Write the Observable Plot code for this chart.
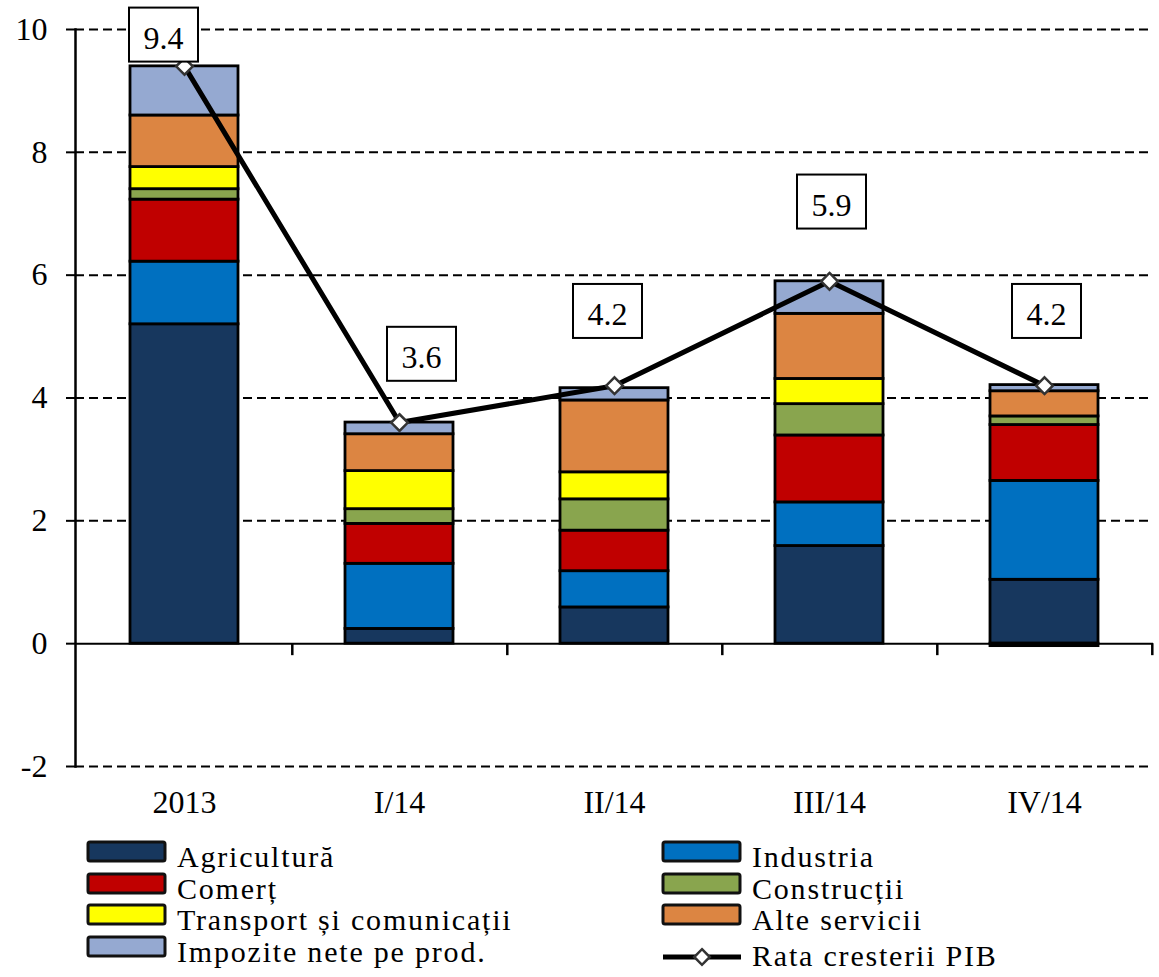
<!DOCTYPE html>
<html><head><meta charset="utf-8">
<script src="https://cdn.jsdelivr.net/npm/d3@7"></script>
<script src="https://cdn.jsdelivr.net/npm/@observablehq/plot@0.6"></script>
<style>
body{margin:0;background:#fff;}
#wrap{position:relative;width:1159px;height:977px;overflow:hidden;}
#wrap svg{display:block;}
</style></head><body><div id="wrap"></div>
<script>
// ---- data ----
const categories = ["2013", "I/14", "II/14", "III/14", "IV/14"];
const seriesNames = ["Agricultură", "Industria", "Comerț", "Construcții", "Transport și comunicații", "Alte servicii", "Impozite nete pe prod."];
const agricultura = [5.2, 0.24, 0.59, 1.59, 1.04];
const industria = [1.02, 1.06, 0.59, 0.71, 1.61];
const comert = [1.01, 0.65, 0.66, 1.09, 0.91];
const constructii = [0.17, 0.24, 0.51, 0.51, 0.14];
const transport = [0.36, 0.62, 0.44, 0.41, -0.04];
const alteServicii = [0.84, 0.6, 1.17, 1.06, 0.41];
const impozite = [0.8, 0.19, 0.2, 0.53, 0.1];
const pib = [9.4, 3.6, 4.2, 5.9, 4.2];
const pibLabels = ["9.4", "3.6", "4.2", "5.9", "4.2"];
const lineName = "Rata cresterii PIB";
const yTicks = [-2, 0, 2, 4, 6, 8, 10];

// ---- styles ----
const colors = ["#17375E", "#0070C0", "#C00000", "#89A54E", "#FFFF00", "#DC8542", "#95A9D1"];
const FONT = "'Liberation Serif', 'Times New Roman', serif";

const seriesValues = [agricultura, industria, comert, constructii, transport, alteServicii, impozite];
const rows = [];
seriesNames.forEach((s, k) => categories.forEach((c, i) => rows.push({cat: c, series: s, value: seriesValues[k][i]})));
const pibRows = categories.map((c, i) => ({cat: c, pib: pib[i], label: pibLabels[i], i}));

const W = 1159, H = 830, ML = 75, MR = 6, MT = 29, MB = 64;
const step = (W - ML - MR) / categories.length;
const pxPerUnit = (H - MT - MB) / 12;
const nudge = [[-21, -28], [22, -65], [-7, -71], [2, -76], [2, -71]];

const plot = Plot.plot({
  width: W, height: H,
  marginLeft: ML, marginRight: MR, marginTop: MT, marginBottom: MB,
  style: {fontFamily: FONT, fontSize: "32px", color: "#000", background: "#fff"},
  x: {domain: categories, paddingInner: 0.5, paddingOuter: 0.25, axis: null},
  y: {domain: [-2, 10], axis: null},
  color: {domain: seriesNames, range: colors},
  marks: [
    Plot.ruleY(yTicks.filter(d => d !== 0), {stroke: "#000", strokeWidth: 2, strokeDasharray: "9,5"}),
    Plot.ruleY([0], {stroke: "#000", strokeWidth: 2}),
    Plot.ruleX(categories, {x: d => d, dx: step / 2, y1: 0, y2: -12 / pxPerUnit, stroke: "#000", strokeWidth: 2.5}),
    Plot.barY(rows, {x: "cat", y: "value", fill: "series", stroke: "#000", strokeWidth: 2.8}),
    Plot.line(pibRows, {x: "cat", y: "pib", stroke: "#000", strokeWidth: 5}),
    Plot.dot(pibRows, {x: "cat", y: "pib", symbol: "diamond2", r: 7.5, fill: "#fff", stroke: "#333", strokeWidth: 2.5}),
    ...pibRows.map(d => Plot.text([d], {x: "cat", y: "pib", text: "label", dx: nudge[d.i][0], dy: nudge[d.i][1], fill: "#000", fontFamily: FONT})),
    Plot.axisY({ticks: yTicks, tickSize: 9, tickPadding: 19, strokeWidth: 2, label: null, tickFormat: d => String(d), fontFamily: FONT}),
    Plot.axisX({tickSize: 0, tickPadding: 24, label: null, fontFamily: FONT}),
    Plot.frame({anchor: "left", stroke: "#000", strokeWidth: 2.5})
  ]
});
const wrap = document.getElementById("wrap");
wrap.appendChild(plot);

// boxes around the growth labels
const labelSet = new Set(pibLabels);
Array.from(plot.querySelectorAll("text"))
  .filter(t => labelSet.has(t.textContent.trim()) && !t.closest('[aria-label*="axis"]'))
  .forEach(t => {
    const b = t.getBBox();
    const cx = b.x + b.width / 2, cy = b.y + b.height / 2;
    const r = document.createElementNS("http://www.w3.org/2000/svg", "rect");
    r.setAttribute("x", cx - 34.5);
    r.setAttribute("y", cy - 30);
    r.setAttribute("width", 69);
    r.setAttribute("height", 54);
    r.setAttribute("fill", "#fff");
    r.setAttribute("stroke", "#000");
    r.setAttribute("stroke-width", 2);
    const tr = t.getAttribute("transform");
    if (tr) r.setAttribute("transform", tr);
    t.parentNode.insertBefore(r, t);
  });

// ---- legend ----
const leg = d3.create("svg").attr("width", W).attr("height", 977 - H)
  .style("font-family", FONT).style("font-size", "30px").style("letter-spacing", "1.8px");
const colX = [88, 663];
const baseY = [37, 69, 100, 132];
const items = seriesNames.map((s, k) => ({name: s, color: colors[k], type: "bar"}));
items.push({name: lineName, type: "line"});
items.forEach((it, k) => {
  const col = k % 2, row = Math.floor(k / 2);
  const x = colX[col], by = baseY[row] + (it.type === "line" ? 4 : 0);
  const g = leg.append("g");
  if (it.type === "bar") {
    g.append("rect").attr("x", x).attr("y", baseY[row] - 25).attr("width", 77).attr("height", 19)
      .attr("fill", it.color).attr("stroke", "#111").attr("stroke-width", 3).attr("rx", 2);
  } else {
    const ly = baseY[row] - 5;
    g.append("line").attr("x1", x).attr("x2", x + 78).attr("y1", ly).attr("y2", ly)
      .attr("stroke", "#000").attr("stroke-width", 5);
    const s = d3.symbol(d3.symbolDiamond2, Math.PI * 7 * 7)();
    g.append("path").attr("d", s).attr("transform", `translate(${x + 39},${ly})`)
      .attr("fill", "#fff").attr("stroke", "#333").attr("stroke-width", 2.5);
  }
  g.append("text").attr("x", x + 89).attr("y", by).text(it.name).attr("fill", "#000");
});
wrap.appendChild(leg.node());
</script>
</body></html>
